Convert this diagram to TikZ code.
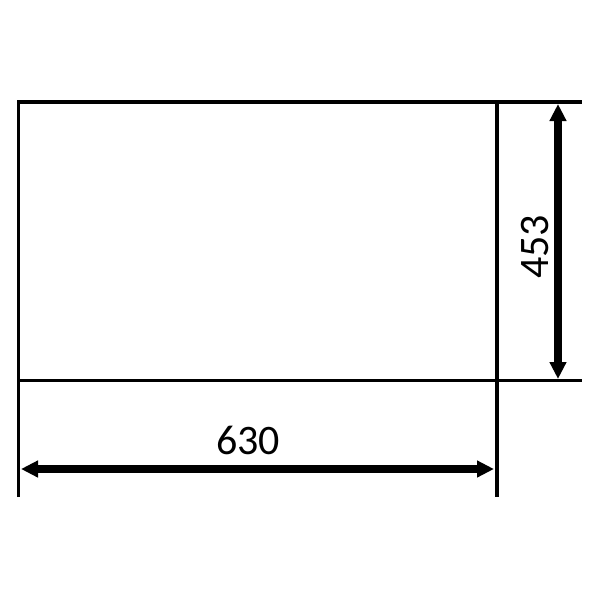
\documentclass[tikz,border=0pt]{standalone}
\usepackage{fontspec}
\setmainfont{Carlito}
\usepackage{tikz}
\usetikzlibrary{arrows.meta}

\begin{document}
\begin{tikzpicture}[
  x=1pt, y=-1pt,
  edge/.style={line width=3.5pt, black},
  dim/.style={{Triangle[length=17pt, width=16pt]}-{Triangle[length=17pt, width=16pt]}, line width=7.5pt, black, shorten <=-1pt, shorten >=-1pt},
  dimlabel/.style={font=\fontsize{42}{48}\selectfont, inner sep=0pt}
]
\useasboundingbox (0,0) rectangle (600,600);

% corners of the panel
\coordinate (tl) at (18.5,102);
\coordinate (tr) at (497,102);
\coordinate (bl) at (18.5,380.5);
\coordinate (br) at (497,380.5);

% extension line ends
\coordinate (tx) at (582,102);
\coordinate (bx) at (582,380.5);
\coordinate (ly) at (18.5,497);
\coordinate (ry) at (497,497);

\draw[edge] (ly) -- (tl) -- (tx);
\draw[edge] (bl) -- (bx);
\draw[edge] (tr) -- (ry);

% dimension arrows
\coordinate (h1) at (22,469);
\coordinate (h2) at (493,469);
\coordinate (v1) at (558,105);
\coordinate (v2) at (558,378);

\draw[dim] (h1) -- (h2);
\draw[dim] (v1) -- (v2);

\node[dimlabel] (w) at (248,440) {630};
\node[dimlabel, rotate=90] (h) at (535,247) {453};

\end{tikzpicture}
\end{document}
